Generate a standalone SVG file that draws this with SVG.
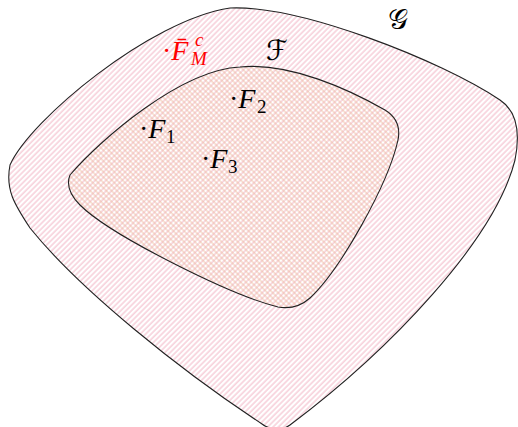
<svg xmlns="http://www.w3.org/2000/svg" width="518" height="427" viewBox="0 0 518 427">
<defs>
<pattern id="ne" patternUnits="userSpaceOnUse" width="3.8" height="10" patternTransform="rotate(45)">
<line x1="1" y1="0" x2="1" y2="10" stroke="#ee9fb3" stroke-width="0.8"/>
</pattern>
<pattern id="nw" patternUnits="userSpaceOnUse" width="3.8" height="10" patternTransform="rotate(-45)">
<line x1="1" y1="0" x2="1" y2="10" stroke="#ebb796" stroke-width="0.8"/>
</pattern>
<style>
.edge{fill:none;stroke:#222;stroke-width:1.1}
.lbl{font-family:"Liberation Serif","DejaVu Serif",serif;font-size:28px;fill:#000}
.it{font-style:italic}
.cal{font-family:"DejaVu Sans","Noto Sans",serif;font-size:28px;font-style:normal;font-weight:normal}
</style>
</defs>
<g id="G">
<path d="M 230,8 C 300,5 440,60 500,100 C 518,112 520,135 515,160 C 495,240 390,350 290,425 C 282,431 270,430 262,424 C 180,370 80,290 30,228 C 15,205 5,190 10,165 C 30,120 150,20 230,8 Z" fill="url(#ne)"/>
<path class="edge" d="M 230,8 C 300,5 440,60 500,100 C 518,112 520,135 515,160 C 495,240 390,350 290,425 C 282,431 270,430 262,424 C 180,370 80,290 30,228 C 15,205 5,190 10,165 C 30,120 150,20 230,8 Z"/>
<text class="lbl cal" x="388" y="29">𝒢</text>
</g>
<g id="F">
<path d="M 240,67 C 290,62 350,90 385,110 C 398,118 400,130 398,140 C 388,185 340,270 310,298 C 300,307 290,309 278,307 C 230,295 110,235 80,205 C 70,195 66,185 70,175 C 100,140 180,70 240,67 Z" fill="url(#nw)"/>
<path class="edge" d="M 240,67 C 290,62 350,90 385,110 C 398,118 400,130 398,140 C 388,185 340,270 310,298 C 300,307 290,309 278,307 C 230,295 110,235 80,205 C 70,195 66,185 70,175 C 100,140 180,70 240,67 Z"/>
<text class="lbl cal" x="266" y="60">ℱ</text>
</g>
<g id="FMc">
<text class="lbl" x="162" y="60" style="fill:#ff0000">·<tspan class="it">F̄</tspan><tspan font-size="19" x="195" y="46" class="it">c</tspan><tspan font-size="19" x="191" y="65" class="it">M</tspan></text>
</g>
<g id="F1">
<text class="lbl" x="139" y="138">·<tspan class="it">F</tspan><tspan font-size="19" x="166" y="143">1</tspan></text>
</g>
<g id="F2">
<text class="lbl" x="229" y="108">·<tspan class="it">F</tspan><tspan font-size="19" x="257" y="113">2</tspan></text>
</g>
<g id="F3">
<text class="lbl" x="201" y="168">·<tspan class="it">F</tspan><tspan font-size="19" x="228" y="173">3</tspan></text>
</g>
</svg>
